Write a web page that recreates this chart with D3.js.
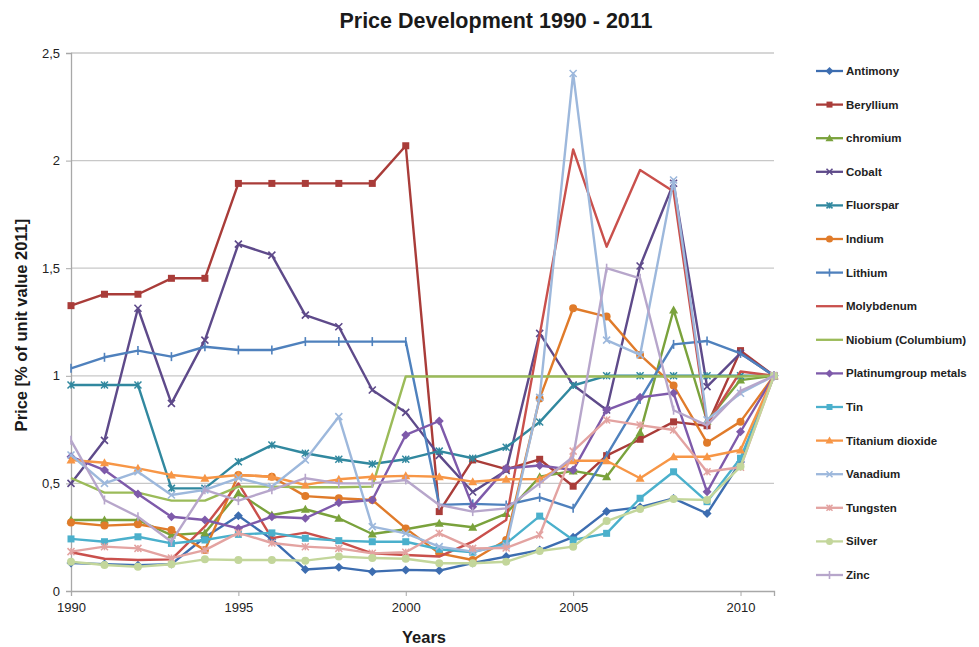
<!DOCTYPE html>
<html><head><meta charset="utf-8">
<script src="https://cdn.jsdelivr.net/npm/d3@7"></script>
<style>
body{margin:0;background:#fff;}
text{font-family:"Liberation Sans",Arial,sans-serif;fill:#1a1a1a;}
</style></head><body>
<svg id="c" width="979" height="647"></svg>
<script>
const years = d3.range(1990, 2012);
const seriesNames = ["Antimony","Beryllium","chromium","Cobalt","Fluorspar","Indium","Lithium","Molybdenum","Niobium (Columbium)","Platinumgroup metals","Tin","Titanium dioxide","Vanadium","Tungsten","Silver","Zinc"];
const antimony   = [0.13,0.125,0.12,0.125,0.25,0.35,0.24,0.10,0.11,0.09,0.098,0.095,0.13,0.16,0.19,0.25,0.37,0.39,0.43,0.36,0.60,1.0];
const beryllium  = [1.326,1.379,1.379,1.453,1.453,1.894,1.894,1.894,1.894,1.894,2.069,0.369,0.609,0.566,0.612,0.487,0.629,0.705,0.786,0.768,1.117,1.0];
const chromium   = [0.33,0.33,0.33,0.26,0.27,0.455,0.353,0.38,0.338,0.265,0.287,0.315,0.296,0.36,0.531,0.558,0.531,0.736,1.306,0.79,0.98,1.0];
const cobalt     = [0.50,0.70,1.314,0.872,1.166,1.612,1.561,1.282,1.228,0.934,0.83,0.63,0.46,0.56,1.197,0.957,0.841,1.51,1.895,0.95,1.105,1.0];
const fluorspar  = [0.957,0.957,0.957,0.477,0.477,0.601,0.678,0.64,0.612,0.59,0.612,0.65,0.617,0.668,0.785,0.955,1.0,1.0,1.0,1.0,1.0,1.0];
const indium     = [0.318,0.304,0.31,0.283,0.19,0.539,0.531,0.441,0.431,0.423,0.291,0.175,0.144,0.237,0.895,1.314,1.275,1.097,0.955,0.689,0.787,1.0];
const lithium    = [1.035,1.086,1.117,1.089,1.135,1.12,1.12,1.159,1.159,1.159,1.159,0.40,0.405,0.40,0.435,0.384,0.63,0.89,1.146,1.162,1.104,1.0];
const molybdenum = [0.18,0.15,0.144,0.147,0.30,0.50,0.246,0.271,0.229,0.175,0.167,0.16,0.229,0.33,1.19,2.052,1.60,1.956,1.856,0.775,1.02,1.0];
const niobium    = [0.525,0.457,0.457,0.42,0.42,0.485,0.485,0.482,0.482,0.485,0.997,0.997,0.997,0.997,0.997,0.997,0.997,0.997,0.997,0.997,0.997,1.0];
const platinum   = [0.624,0.562,0.451,0.345,0.33,0.291,0.345,0.338,0.41,0.423,0.725,0.79,0.392,0.57,0.583,0.562,0.841,0.9,0.92,0.461,0.74,1.0];
const tin        = [0.242,0.229,0.252,0.221,0.237,0.263,0.27,0.245,0.234,0.229,0.229,0.194,0.18,0.221,0.348,0.237,0.268,0.431,0.554,0.415,0.617,1.0];
const titanium   = [0.609,0.596,0.570,0.539,0.524,0.539,0.531,0.493,0.519,0.531,0.535,0.531,0.508,0.519,0.52,0.605,0.605,0.524,0.624,0.624,0.655,1.0];
const vanadium   = [0.632,0.50,0.554,0.446,0.47,0.525,0.485,0.609,0.81,0.299,0.268,0.206,0.183,0.21,0.9,2.405,1.166,1.097,1.91,0.795,0.919,1.0];
const tungsten   = [0.183,0.206,0.198,0.153,0.19,0.27,0.223,0.206,0.198,0.175,0.18,0.268,0.198,0.2,0.26,0.65,0.795,0.771,0.748,0.554,0.575,1.0];
const silver     = [0.136,0.121,0.113,0.124,0.147,0.144,0.144,0.141,0.16,0.153,0.15,0.129,0.129,0.136,0.186,0.206,0.325,0.381,0.427,0.423,0.578,1.0];
const zinc       = [0.70,0.423,0.345,0.229,0.47,0.42,0.47,0.524,0.50,0.50,0.516,0.40,0.369,0.384,0.50,0.624,1.50,1.453,0.84,0.77,0.93,1.0];
const seriesValues = [antimony,beryllium,chromium,cobalt,fluorspar,indium,lithium,molybdenum,niobium,platinum,tin,titanium,vanadium,tungsten,silver,zinc];
const colors = ["#3D6DB0","#A93C39","#7AA23C","#5E4A8A","#31889F","#E07B2A","#4F81BD","#C9504C","#9BBB59","#7E5AAA","#4BB0CC","#F79646","#9DB8DC","#E3A3A1","#C3D69B","#B7A6CB"];
const markers = ["diamond","square","triangle","x","star","circle","plus","none","none","diamond","square","triangle","x","star","circle","plus"];
const yTicks = [0,0.5,1,1.5,2,2.5];
const yTickLabels = ["0","0,5","1","1,5","2","2,5"];
const xTicks = [1990,1995,2000,2005,2010];

const svg = d3.select("#c");
const L=71, R=774, T=53, B=591;
const x = d3.scaleLinear().domain([1990,2011]).range([L,R]);
const y = d3.scaleLinear().domain([0,2.5]).range([B,T]);

// gridlines
svg.append("g").selectAll("line").data(yTicks.slice(1)).join("line")
  .attr("x1",L).attr("x2",R).attr("y1",d=>y(d)).attr("y2",d=>y(d))
  .attr("stroke","#c8c8c8").attr("stroke-width",1.3);

// axes
const yAxis = d3.axisLeft(y).tickValues(yTicks).tickFormat((d,i)=>yTickLabels[i]).tickSize(5).tickPadding(6);
const gy = svg.append("g").attr("transform",`translate(${L},0)`).call(yAxis);
gy.select(".domain").attr("stroke","#a8a8a8").attr("stroke-width",1.3);
gy.selectAll(".tick line").attr("stroke","#a8a8a8");
gy.selectAll("text").style("font-size","13px").style("fill","#222");
const xAxis = d3.axisBottom(x).tickValues(xTicks).tickFormat(d3.format("d")).tickSize(5).tickPadding(7);
const gx = svg.append("g").attr("transform",`translate(0,${B})`).call(xAxis);
gx.select(".domain").attr("stroke","#a8a8a8").attr("stroke-width",1.3);
gx.selectAll(".tick line").attr("stroke","#a8a8a8");
gx.selectAll("text").style("font-size","13px").style("fill","#222");

// marker drawer
function drawMarker(g, type, color, s){
  const h=s/2;
  if(type==="diamond") g.append("path").attr("d",`M0,${-h-1}L${h+1},0L0,${h+1}L${-h-1},0Z`).attr("fill",color);
  else if(type==="square") g.append("rect").attr("x",-h).attr("y",-h).attr("width",s).attr("height",s).attr("fill",color);
  else if(type==="triangle") g.append("path").attr("d",`M0,${-h-1}L${h+1},${h}L${-h-1},${h}Z`).attr("fill",color);
  else if(type==="circle") g.append("circle").attr("r",h+0.5).attr("fill",color);
  else if(type==="x") g.append("path").attr("d",`M${-h},${-h}L${h},${h}M${-h},${h}L${h},${-h}`).attr("stroke",color).attr("stroke-width",1.6).attr("fill","none");
  else if(type==="star") g.append("path").attr("d",`M${-h},${-h}L${h},${h}M${-h},${h}L${h},${-h}M0,${-h}L0,${h}`).attr("stroke",color).attr("stroke-width",1.5).attr("fill","none");
  else if(type==="plus") g.append("path").attr("d",`M0,${-h-1}L0,${h+1}`).attr("stroke",color).attr("stroke-width",1.6).attr("fill","none");
}

const line = d3.line().x((d,i)=>x(years[i])).y(d=>y(d));
seriesValues.forEach((vals,si)=>{
  const g = svg.append("g");
  g.append("path").datum(vals).attr("d",line).attr("fill","none")
    .attr("stroke",colors[si]).attr("stroke-width",2.4).attr("stroke-linejoin","round");
  if(markers[si]!=="none"){
    vals.forEach((v,i)=>{
      const mg = g.append("g").attr("transform",`translate(${x(years[i])},${y(v)})`);
      drawMarker(mg, markers[si], colors[si], 7);
    });
  }
});

// legend
const lg = svg.append("g");
seriesNames.forEach((n,i)=>{
  const cy = 71 + 33.6*i;
  lg.append("line").attr("x1",816).attr("x2",843).attr("y1",cy).attr("y2",cy)
    .attr("stroke",colors[i]).attr("stroke-width",2.3);
  if(markers[i]!=="none"){
    const mg = lg.append("g").attr("transform",`translate(829.5,${cy})`);
    drawMarker(mg, markers[i], colors[i], 6);
  }
  lg.append("text").attr("x",846).attr("y",cy).attr("dy","0.35em")
    .style("font-size","11.5px").style("font-weight","bold").style("fill","#222").text(n);
});

// titles
svg.append("text").attr("x",496).attr("y",28).attr("text-anchor","middle")
  .style("font-size","21.5px").style("font-weight","bold").text("Price Development 1990 - 2011");
svg.append("text").attr("x",424).attr("y",643).attr("text-anchor","middle")
  .style("font-size","16.5px").style("font-weight","bold").text("Years");
svg.append("text").attr("transform","translate(27,325) rotate(-90)").attr("text-anchor","middle")
  .style("font-size","16.5px").style("font-weight","bold").text("Price [% of unit value 2011]");
</script></body></html>
